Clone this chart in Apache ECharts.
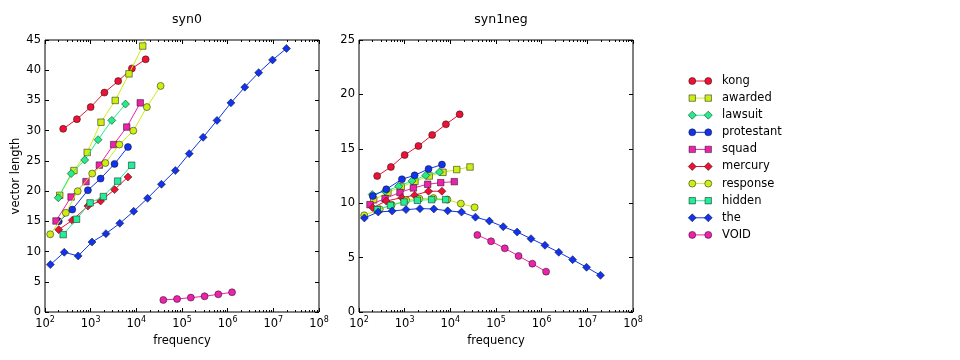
<!DOCTYPE html>
<html><head><meta charset="utf-8">
<script src="https://cdn.jsdelivr.net/npm/echarts@6/dist/echarts.min.js"></script>
<style>html,body{margin:0;padding:0;background:#fff}#c{width:960px;height:360px}</style>
</head><body><div id="c"></div>
<script>
// ---------------- data ----------------
const panelTitles = ['syn0', 'syn1neg'];
const xMajorTicks = [1e2, 1e3, 1e4, 1e5, 1e6, 1e7, 1e8];
const words = ['kong', 'awarded', 'lawsuit', 'protestant', 'squad', 'mercury', 'response', 'hidden', 'the', 'VOID'];

const kongFreq = [250, 500, 1000, 2000, 4000, 8000, 16000];
const kongSyn0 = [30.3, 31.9, 33.9, 36.3, 38.2, 40.3, 41.8];
const kongSyn1neg = [12.5, 13.33, 14.43, 15.26, 16.27, 17.25, 18.17];

const awardedFreq = [210, 430, 840, 1680, 3450, 6900, 13800, 27000];
const awardedSyn0 = [19.3, 23.4, 26.4, 31.4, 35.0, 39.4, 44.0, 49.5];
const awardedSyn1neg = [10.3, 11.0, 11.5, 12.0, 12.5, 12.84, 13.09, 13.33];

const lawsuitFreq = [195, 375, 740, 1450, 2900, 5800];
const lawsuitSyn0 = [18.9, 22.9, 25.15, 28.5, 31.7, 34.4];
const lawsuitSyn1neg = [10.8, 11.1, 11.55, 12.05, 12.55, 12.87];

const protestantFreq = [200, 395, 870, 1650, 3330, 6550];
const protestantSyn0 = [15.0, 16.94, 20.14, 22.07, 24.5, 27.3];
const protestantSyn1neg = [10.66, 11.28, 12.2, 12.56, 13.15, 13.55];

const squadFreq = [174, 372, 790, 1550, 3190, 6170, 12200];
const squadSyn0 = [15.06, 19.03, 21.57, 24.3, 27.7, 30.6, 34.6];
const squadSyn1neg = [9.87, 10.42, 10.99, 11.4, 11.74, 11.89, 11.98];

const mercuryFreq = [200, 395, 870, 1650, 3330, 6550];
const mercurySyn0 = [13.62, 15.17, 17.54, 18.37, 20.25, 22.34];
const mercurySyn1neg = [9.59, 10.2, 10.51, 10.73, 11.1, 11.1];

const responseFreq = [130, 285, 520, 1080, 2100, 4250, 8600, 17000, 34000];
const responseSyn0 = [12.86, 16.4, 19.98, 22.9, 24.65, 27.7, 30.0, 33.9, 37.4];
const responseSyn1neg = [8.89, 9.44, 9.85, 10.27, 10.42, 10.47, 10.33, 9.96, 9.62];

const hiddenFreq = [250, 490, 970, 1900, 3900, 7900];
const hiddenSyn0 = [12.8, 15.34, 18.05, 19.1, 21.65, 24.28];
const hiddenSyn1neg = [9.41, 9.8, 10.11, 10.27, 10.33, 10.33];

const theFreq = [131, 264, 532, 1070, 2160, 4350, 8760, 17600, 35500, 71600, 144000, 290000, 584000, 1180000, 2370000, 4770000, 9610000, 19400000];
const theSyn0 = [7.84, 9.88, 9.27, 11.58, 12.96, 14.67, 16.66, 18.81, 21.13, 23.4, 26.2, 28.9, 31.7, 34.6, 37.2, 39.6, 41.7, 43.6];
const theSyn1neg = [8.64, 9.19, 9.28, 9.41, 9.5, 9.47, 9.3, 9.18, 8.72, 8.36, 7.84, 7.35, 6.74, 6.13, 5.49, 4.81, 4.11, 3.37];

const voidFreq = [39000, 78000, 156000, 312000, 624000, 1248000];
const voidSyn0 = [1.99, 2.15, 2.38, 2.6, 2.93, 3.26];
const voidSyn1neg = [7.08, 6.5, 5.85, 5.15, 4.44, 3.71];

// ---------------- styling ----------------
const font = 'DejaVu Sans';
const colors = ['#ee1133', '#ccee11', '#22ee88', '#1133ee', '#ee22aa', '#ee1133', '#ccee11', '#22ee99', '#1133ee', '#ee22aa'];
const markers = ['circle', 'rect', 'diamond', 'circle', 'rect', 'diamond', 'circle', 'rect', 'diamond', 'circle'];
const markerSize = {circle: 7, rect: 6.5, diamond: 8};

const freqs = [kongFreq, awardedFreq, lawsuitFreq, protestantFreq, squadFreq, mercuryFreq, responseFreq, hiddenFreq, theFreq, voidFreq];
const syn0 = [kongSyn0, awardedSyn0, lawsuitSyn0, protestantSyn0, squadSyn0, mercurySyn0, responseSyn0, hiddenSyn0, theSyn0, voidSyn0];
const syn1 = [kongSyn1neg, awardedSyn1neg, lawsuitSyn1neg, protestantSyn1neg, squadSyn1neg, mercurySyn1neg, responseSyn1neg, hiddenSyn1neg, theSyn1neg, voidSyn1neg];

const xMinorTicks = [];
for (let d = 2; d < 8; d++) for (let k = 2; k <= 9; k++) xMinorTicks.push(k * Math.pow(10, d));

const grids = [
  {left: 45, top: 40, width: 274, height: 272, show: true, borderColor: '#000', borderWidth: 1, backgroundColor: 'transparent'},
  {left: 359, top: 40, width: 274, height: 272, show: true, borderColor: '#000', borderWidth: 1, backgroundColor: 'transparent'}
];

function supLabel(v) {
  const e = Math.round(Math.log10(v));
  return '{b|10}{s|' + e + '}';
}
const tickLine = {color: '#000', width: 1};

function xAxesFor(g) {
  const base = {type: 'log', logBase: 10, min: 1e2, max: 1e8, gridIndex: g,
    splitLine: {show: false}, axisLine: {show: false, onZero: false}, axisLabel: {show: false}};
  return [
    Object.assign({}, base, {position: 'bottom',
      axisTick: {inside: true, length: 4, customValues: xMajorTicks, lineStyle: tickLine},
      axisLabel: {show: true, customValues: xMajorTicks, formatter: supLabel, margin: 4,
        rich: {b: {fontFamily: font, fontSize: 11.5, color: '#000'},
               s: {fontFamily: font, fontSize: 8, color: '#000', padding: [0, 0, 8, 0]}}},
      name: 'frequency', nameLocation: 'middle', nameGap: 21,
      nameTextStyle: {fontFamily: font, fontSize: 11.5, color: '#000'}}),
    Object.assign({}, base, {position: 'bottom',
      axisTick: {inside: true, length: 2, customValues: xMinorTicks, lineStyle: tickLine}}),
    Object.assign({}, base, {position: 'top',
      axisTick: {inside: true, length: 4, customValues: xMajorTicks, lineStyle: tickLine}}),
    Object.assign({}, base, {position: 'top',
      axisTick: {inside: true, length: 2, customValues: xMinorTicks, lineStyle: tickLine}})
  ];
}
function yAxesFor(g, max, name) {
  return [
    {type: 'value', gridIndex: g, min: 0, max: max, interval: 5, position: 'left',
     axisLine: {show: false, onZero: false}, axisTick: {inside: true, length: 4, lineStyle: tickLine},
     axisLabel: {color: '#000', fontFamily: font, fontSize: 11.5, margin: 4}, splitLine: {show: false},
     name: name, nameLocation: 'middle', nameGap: 21,
     nameTextStyle: {fontFamily: font, fontSize: 11.5, color: '#000'}},
    {type: 'value', gridIndex: g, min: 0, max: max, interval: 5, position: 'right',
     axisLine: {show: false, onZero: false}, axisTick: {inside: true, length: 4, lineStyle: tickLine},
     axisLabel: {show: false}, splitLine: {show: false}}
  ];
}

const series = [];
[syn0, syn1].forEach((vals, p) => {
  words.forEach((w, i) => {
    series.push({
      type: 'line', name: w, xAxisIndex: p * 4, yAxisIndex: p * 2,
      data: freqs[i].map((f, j) => [f, vals[i][j]]),
      symbol: markers[i], symbolSize: markerSize[markers[i]],
      showAllSymbol: true, clip: true,
      itemStyle: {color: colors[i], borderColor: '#111', borderWidth: 0.5},
      lineStyle: {color: colors[i], width: 1},
      emphasis: {disabled: true}, z: 2 + i * 0.01
    });
  });
});

// legend icons: line between two markers (24 x 8 box)
const box = 'M0,0 L0,0 M24,8 L24,8 ';
const barIcon = 'path://' + box + 'M4,3.5 L20,3.5 L20,4.5 L4,4.5 Z';
const markerIcons = {
  circle: 'path://' + box + 'M0.5,4 A3.5,3.5 0 1 1 7.5,4 A3.5,3.5 0 1 1 0.5,4 Z M16.5,4 A3.5,3.5 0 1 1 23.5,4 A3.5,3.5 0 1 1 16.5,4 Z',
  rect: 'path://' + box + 'M0.8,0.8 L7.2,0.8 L7.2,7.2 L0.8,7.2 Z M16.8,0.8 L23.2,0.8 L23.2,7.2 L16.8,7.2 Z',
  diamond: 'path://' + box + 'M0,4 L4,0 L8,4 L4,8 Z M16,4 L20,0 L24,4 L20,8 Z'
};
const legendBase = {orient: 'vertical', left: 683, top: 70, itemWidth: 24, itemHeight: 8, itemGap: 5.1,
  selectedMode: false, symbolKeepAspect: false};
const legends = [
  Object.assign({}, legendBase, {
    data: words.map(w => ({name: w, icon: barIcon})),
    itemStyle: {borderWidth: 0},
    textStyle: {fontFamily: font, fontSize: 11.5, color: '#000', lineHeight: 12, padding: [0, 0, 0, 5]}
  }),
  Object.assign({}, legendBase, {
    data: words.map((w, i) => ({name: w, icon: markerIcons[markers[i]]})),
    itemStyle: {borderColor: '#111', borderWidth: 0.5},
    textStyle: {fontFamily: font, fontSize: 11.5, color: 'rgba(0,0,0,0)', lineHeight: 12, padding: [0, 0, 0, 5]}
  })
];

const option = {
  animation: false,
  backgroundColor: '#fff',
  title: [
    {text: panelTitles[0], left: 182, top: 8, textAlign: 'center',
     textStyle: {fontFamily: font, fontSize: 12.5, fontWeight: 'normal', color: '#000'}},
    {text: panelTitles[1], left: 496, top: 8, textAlign: 'center',
     textStyle: {fontFamily: font, fontSize: 12.5, fontWeight: 'normal', color: '#000'}}
  ],
  legend: legends,
  grid: grids,
  xAxis: xAxesFor(0).concat(xAxesFor(1)),
  yAxis: yAxesFor(0, 45, 'vector length').concat(yAxesFor(1, 25, '')),
  series: series
};
const chart = echarts.init(document.getElementById('c'));
chart.setOption(option);
</script></body></html>
